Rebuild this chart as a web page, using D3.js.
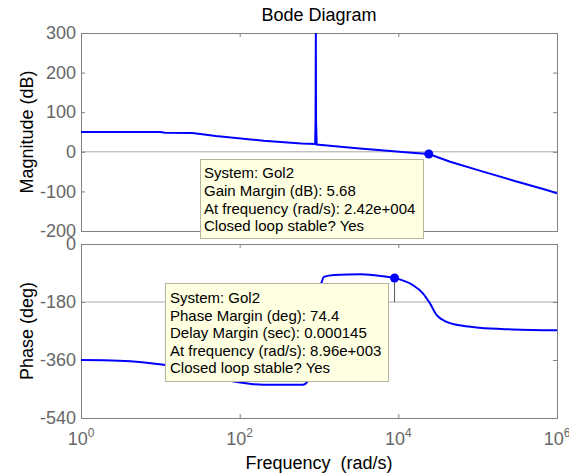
<!DOCTYPE html>
<html><head><meta charset="utf-8">
<script src="https://cdn.jsdelivr.net/npm/d3@7"></script>
<style>
body{margin:0;background:#fff;}
text{font-family:Arial,"Liberation Sans",sans-serif;}
</style></head>
<body><svg id="c" width="569" height="475"></svg>
<script>
// ---- data ----
const magFreq = [1, 10, 11.5, 25, 32, 50, 200, 600, 895, 905, 912, 918, 935, 1000, 3000, 13500, 24200, 45000, 117000, 309000, 741000, 1000000];
const magDb   = [50, 50, 48, 47.5, 45, 40, 28, 21, 20, 80, 300, 80, 18, 17.5, 9, -2, -5.68, -25, -50, -75, -96.5, -105];
const phaseFreq = [1, 3, 11, 30, 85, 200, 630, 710, 800, 910, 980, 1030, 1070, 1150, 1550, 3400, 6000, 8960, 15100, 20400, 25000, 30300, 40000, 65000, 105000, 277000, 1000000];
const phaseDeg  = [-360, -362, -375, -398, -427, -437, -437, -428, -400, -300, -180, -130, -121, -102, -96, -94, -99, -105.6, -127, -153, -184, -220, -241, -254, -260, -265, -268];
const xTicks = [1, 100, 10000, 1000000];
const xTickExp = ["0", "2", "4", "6"];
const magTicks = [300, 200, 100, 0, -100, -200];
const phaseTicks = [0, -180, -360, -540];
const gm = {freq: 24200, value: -5.68};
const pm = {freq: 8960, value: -105.6};
const gmText = ["System: Gol2", "Gain Margin (dB): 5.68", "At frequency (rad/s): 2.42e+004", "Closed loop stable? Yes"];
const pmText = ["System: Gol2", "Phase Margin (deg): 74.4", "Delay Margin (sec): 0.000145", "At frequency (rad/s): 8.96e+003", "Closed loop stable? Yes"];
const title = "Bode Diagram";
const xLabel = "Frequency  (rad/s)";
const magLabel = "Magnitude (dB)";
const phaseLabel = "Phase (deg)";

// ---- layout ----
const svg = d3.select("#c");
const L = 81, R = 557;
const x = d3.scaleLog().domain([1, 1e6]).range([L, R]);
const yM = d3.scaleLinear().domain([-200, 300]).range([231, 33]);
const yP = d3.scaleLinear().domain([-540, 0]).range([418, 244]);
const axisCol = "#808080", tickTextCol = "#666666", blue = "#0000ff";

function panel(id, y, ticks, refVal) {
  const [y0, y1] = [y.range()[1], y.range()[0]];
  svg.append("clipPath").attr("id", id).append("rect")
    .attr("x", L).attr("y", y0).attr("width", R - L).attr("height", y1 - y0);
  svg.append("line").attr("x1", L).attr("x2", R).attr("y1", y(refVal)).attr("y2", y(refVal))
    .attr("stroke", "#a8a8a8").attr("stroke-width", 1);
  const left = d3.axisLeft(y).tickValues(ticks).tickSize(-4).tickPadding(5).tickFormat(d => String(d));
  const gl = svg.append("g").attr("transform", `translate(${L},0)`).call(left);
  const right = d3.axisRight(y).tickValues(ticks).tickSize(-4).tickFormat("");
  const gr = svg.append("g").attr("transform", `translate(${R},0)`).call(right);
  const top = d3.axisTop(x).tickValues(xTicks).tickSize(-4).tickFormat("");
  const gt = svg.append("g").attr("transform", `translate(0,${y0})`).call(top);
  const bot = d3.axisBottom(x).tickValues(xTicks).tickSize(-4).tickFormat("");
  const gb = svg.append("g").attr("transform", `translate(0,${y1})`).call(bot);
  [gl, gr, gt, gb].forEach(g => {
    g.selectAll("path.domain").attr("stroke", axisCol);
    g.selectAll(".tick line").attr("stroke", axisCol);
    g.selectAll("text").attr("fill", tickTextCol).style("font-size", "18px")
      .style("font-family", "Arial, 'Liberation Sans', sans-serif");
  });
}

panel("clipM", yM, magTicks, 0);
panel("clipP", yP, phaseTicks, -180);

// curves
const lineM = d3.line().x((d, i) => x(magFreq[i])).y(d => yM(d));
svg.append("path").datum(magDb).attr("d", lineM).attr("fill", "none")
  .attr("stroke", blue).attr("stroke-width", 2).attr("clip-path", "url(#clipM)");
const lineP = d3.line().curve(d3.curveMonotoneX).x((d, i) => x(phaseFreq[i])).y(d => yP(d));
svg.append("path").datum(phaseDeg).attr("d", lineP).attr("fill", "none")
  .attr("stroke", blue).attr("stroke-width", 2).attr("clip-path", "url(#clipP)");

// phase margin drop line
svg.append("line").attr("x1", x(pm.freq)).attr("x2", x(pm.freq))
  .attr("y1", yP(pm.value)).attr("y2", yP(-180)).attr("stroke", "#555").attr("stroke-width", 1);

// markers
svg.append("circle").attr("cx", x(gm.freq)).attr("cy", yM(gm.value)).attr("r", 4.5).attr("fill", blue);
svg.append("circle").attr("cx", x(pm.freq)).attr("cy", yP(pm.value)).attr("r", 4.5).attr("fill", blue);

// x tick labels (bottom)
xTicks.forEach((t, i) => {
  const tx = svg.append("text").attr("x", x(t)).attr("y", 445).attr("text-anchor", "middle")
    .attr("fill", tickTextCol).style("font-size", "18px");
  tx.append("tspan").text("10");
  tx.append("tspan").attr("dy", -8).style("font-size", "12px").text(xTickExp[i]);
});

// tooltips
function tip(lines, bx, by, bw, bh, tx, ty0, dy) {
  svg.append("rect").attr("x", bx + 0.5).attr("y", by + 0.5).attr("width", bw).attr("height", bh)
    .attr("fill", "#ffffe1").attr("stroke", "#b4b4a0").attr("stroke-width", 1);
  lines.forEach((s, i) => {
    svg.append("text").attr("x", tx).attr("y", ty0 + i * dy).attr("fill", "#000")
      .style("font-size", "15px").text(s);
  });
}
tip(gmText, 200, 159, 223, 79, 204, 178, 17.8);
tip(pmText, 165, 283, 223, 98, 170, 303, 17.6);

// titles
svg.append("text").attr("x", 319).attr("y", 21).attr("text-anchor", "middle")
  .style("font-size", "18px").attr("fill", "#000").text(title);
svg.append("text").attr("x", 319).attr("y", 469).attr("text-anchor", "middle")
  .style("font-size", "18px").style("white-space", "pre").attr("xml:space", "preserve")
  .attr("fill", "#000").text(xLabel);
svg.append("text").attr("transform", "translate(33,132) rotate(-90)").attr("text-anchor", "middle")
  .style("font-size", "18px").attr("fill", "#000").text(magLabel);
svg.append("text").attr("transform", "translate(33,331) rotate(-90)").attr("text-anchor", "middle")
  .style("font-size", "18px").attr("fill", "#000").text(phaseLabel);
</script></body></html>
